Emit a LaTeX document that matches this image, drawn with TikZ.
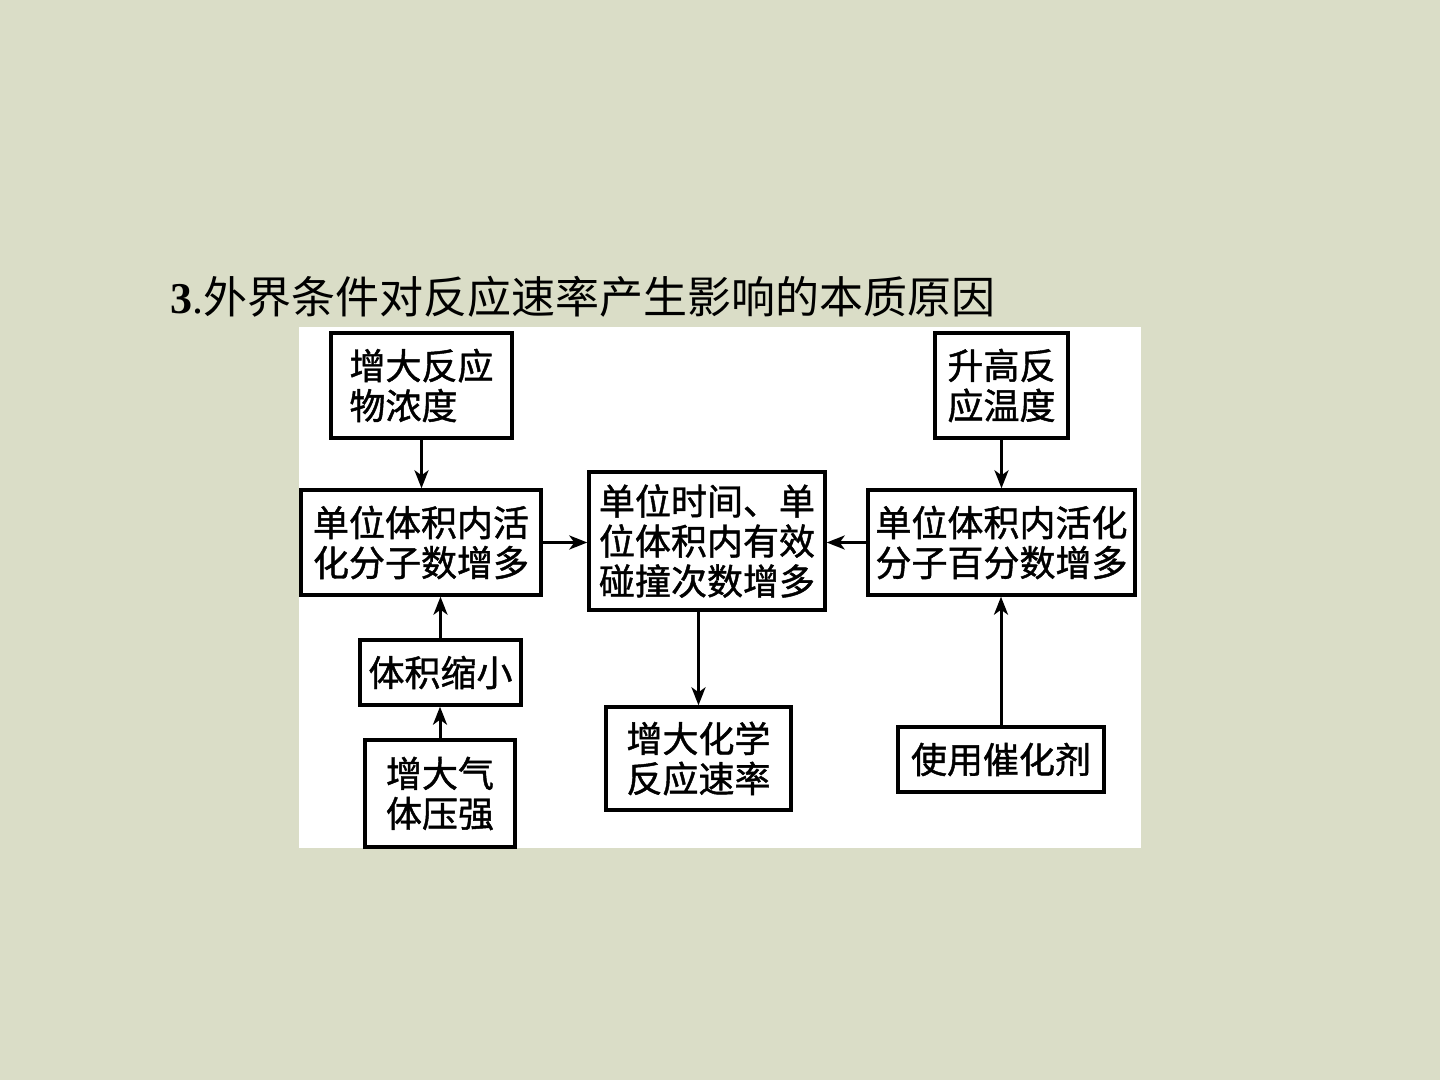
\documentclass[tikz,border=0pt]{standalone}
\usepackage{fontspec}
\setmainfont{Liberation Serif}
\newfontfamily\cjk{Noto Sans CJK SC}
\newfontfamily\cjkb[FakeBold=1.2]{Noto Sans CJK SC}
\usetikzlibrary{arrows.meta}
\definecolor{bgc}{RGB}{218,221,199}
\tikzset{
  box/.style={draw=black, line width=1.7pt, fill=white, inner sep=0pt, align=left,
    font=\cjkb\fontsize{18pt}{20pt}\selectfont},
  conn/.style={line width=1.5pt, -{Stealth[length=9pt,width=7pt,inset=2.5pt]}},
}
\begin{document}
\begin{tikzpicture}[x=0.5pt,y=-0.5pt]
\path[fill=bgc,use as bounding box] (0,0) rectangle (1440,1080);
\fill[white] (299,327) rectangle (1141,848);
\node[anchor=base west, inner sep=0pt] (title) at (170,314)
  {\fontsize{22pt}{26pt}\selectfont\textbf{3}.\cjk 外界条件对反应速率产生影响的本质原因};
\node[box, minimum width=90.5pt, minimum height=52.5pt] (A) at (421.5,385.5) {增大反应\\物浓度};
\node[box, minimum width=120pt, minimum height=52.5pt] (B) at (421,542.5) {单位体积内活\\化分子数增多};
\node[box, minimum width=118pt, minimum height=69pt] (C) at (707,541) {单位时间、单\\位体积内有效\\碰撞次数增多};
\node[box, minimum width=133.5pt, minimum height=52.5pt] (D) at (1001.5,542.5) {单位体积内活化\\分子百分数增多};
\node[box, minimum width=66.5pt, minimum height=52.5pt] (E) at (1001.5,385.5) {升高反\\应温度};
\node[box, minimum width=80.5pt, minimum height=32.5pt] (F) at (440.5,672.5) {体积缩小};
\node[box, minimum width=75pt, minimum height=53.5pt] (G) at (440,793.5) {增大气\\体压强};
\node[box, minimum width=92.5pt, minimum height=51.5pt] (H) at (698.5,758.5) {增大化学\\反应速率};
\node[box, minimum width=103pt, minimum height=32.5pt] (I) at (1001,759.5) {使用催化剂};
\draw[conn] (A.south) -- (A.south |- B.north);
\draw[conn] (B.east) -- (B.east -| C.west);
\draw[conn] (D.west) -- (D.west -| C.east);
\draw[conn] (E.south) -- (E.south |- D.north);
\draw[conn] (F.north) -- (F.north |- B.south);
\draw[conn] (G.north) -- (G.north |- F.south);
\draw[conn] (H.north |- C.south) -- (H.north);
\draw[conn] (I.north) -- (I.north |- D.south);
\end{tikzpicture}
\end{document}
